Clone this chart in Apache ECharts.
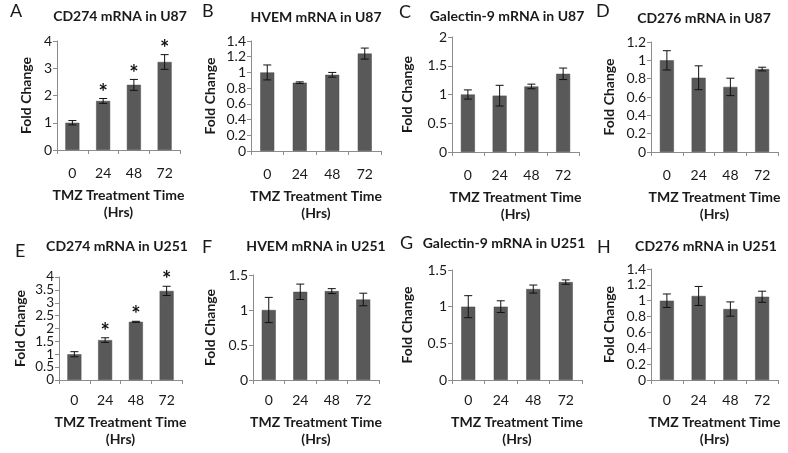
<!DOCTYPE html>
<html>
<head>
<meta charset="utf-8">
<script src="https://cdn.jsdelivr.net/npm/echarts@6/dist/echarts.min.js"></script>
<style>html,body{margin:0;padding:0;background:#fff}#c{width:788px;height:453px}</style>
</head>
<body>
<div id="c"></div>
<script>
// ---- data ----
const categories = ['0', '24', '48', '72'];
const panelLetters = ['A', 'B', 'C', 'D', 'E', 'F', 'G', 'H'];
const panelTitles = ['CD274 mRNA in U87', 'HVEM mRNA in U87', 'Galectin-9 mRNA in U87', 'CD276 mRNA in U87',
                     'CD274 mRNA in U251', 'HVEM mRNA in U251', 'Galectin-9 mRNA in U251', 'CD276 mRNA in U251'];
const cd274U87 = [1.0, 1.8, 2.39, 3.23];
const cd274U87Err = [0.08, 0.09, 0.2, 0.27];
const hvemU87 = [1.0, 0.87, 0.97, 1.24];
const hvemU87Err = [0.095, 0.01, 0.03, 0.07];
const gal9U87 = [1.0, 0.98, 1.14, 1.36];
const gal9U87Err = [0.08, 0.18, 0.04, 0.1];
const cd276U87 = [1.0, 0.81, 0.71, 0.905];
const cd276U87Err = [0.105, 0.13, 0.095, 0.02];
const cd274U251 = [1.0, 1.55, 2.26, 3.46];
const cd274U251Err = [0.1, 0.09, 0.02, 0.18];
const hvemU251 = [1.0, 1.26, 1.27, 1.15];
const hvemU251Err = [0.18, 0.11, 0.035, 0.09];
const gal9U251 = [1.0, 1.0, 1.24, 1.335];
const gal9U251Err = [0.15, 0.08, 0.055, 0.03];
const cd276U251 = [1.0, 1.06, 0.895, 1.05];
const cd276U251Err = [0.085, 0.12, 0.09, 0.07];
const sigCD274 = [0, 1, 1, 1];
const sigNone = [0, 0, 0, 0];
const yMax = [4, 1.4, 2, 1.2, 4, 1.5, 1.5, 1.4];
const yStep = [1, 0.2, 0.5, 0.2, 0.5, 0.5, 0.5, 0.2];
const xTitle = 'TMZ Treatment Time\n(Hrs)';
const yTitle = 'Fold Change';

const values = [cd274U87, hvemU87, gal9U87, cd276U87, cd274U251, hvemU251, gal9U251, cd276U251];
const errors = [cd274U87Err, hvemU87Err, gal9U87Err, cd276U87Err, cd274U251Err, hvemU251Err, gal9U251Err, cd276U251Err];
const sigs = [sigCD274, sigNone, sigNone, sigNone, sigCD274, sigNone, sigNone, sigNone];

// ---- layout ----
const FONT = 'Lato';
const grids = [
  {left: 57, top: 41, width: 123, height: 109},
  {left: 251, top: 41, width: 130, height: 110},
  {left: 452, top: 37, width: 127, height: 115},
  {left: 651, top: 42, width: 127, height: 110},
  {left: 59, top: 277, width: 123, height: 103},
  {left: 253, top: 275, width: 126, height: 105},
  {left: 452, top: 270, width: 130, height: 110},
  {left: 651, top: 269, width: 127, height: 111}
];
const yNameGap = [24, 34, 38, 35, 32, 36, 38, 35];
const titlePos = [[120, 16], [316, 17], [507, 16], [704, 18], [117, 246], [316, 246], [504, 243], [706, 246]];
const letterPos = [[10, 11], [202, 11], [399, 12], [596, 11], [15, 251], [202, 247], [400, 243], [597, 247]];
// panel whose labels are too dense for one axis: split integer / half-step labels over two stacked axes
const DENSE = 4;

const axisColor = '#8c8c8c';
const textColor = '#1a1a1a';
const labelBase = {margin: 5, fontSize: 14, color: textColor, fontFamily: FONT, hideOverlap: false};

const yAxes = grids.map((g, i) => {
  const dense = i === DENSE;
  return {
    type: 'value', gridIndex: i, position: 'left', min: 0, max: yMax[i],
    interval: dense ? yStep[i] * 2 : yStep[i],
    axisLine: {show: true, lineStyle: {color: axisColor, width: 1}},
    axisTick: {show: true, length: 4, lineStyle: {color: axisColor}},
    splitLine: {show: false},
    axisLabel: Object.assign({}, labelBase, {showMinLabel: true, showMaxLabel: true, fontSize: dense ? 13.5 : 14}),
    name: yTitle, nameLocation: 'middle', nameGap: yNameGap[i], nameRotate: 90,
    nameTextStyle: {fontFamily: FONT, fontWeight: 'bold', fontSize: 14, color: textColor}
  };
});
yAxes.push({
  type: 'value', gridIndex: DENSE, position: 'left', offset: 0, min: 0, max: yMax[DENSE], interval: yStep[DENSE],
  axisLine: {show: false},
  axisTick: {show: true, length: 4, lineStyle: {color: axisColor}},
  splitLine: {show: false},
  axisLabel: Object.assign({}, labelBase, {fontSize: 13.5, showMinLabel: false, showMaxLabel: false,
    formatter: v => (Math.abs(v % 1) > 1e-9 ? String(v) : '')})
});

const option = {
  backgroundColor: '#ffffff',
  animation: false,
  grid: grids.map(g => Object.assign({containLabel: false}, g)),
  xAxis: grids.map((g, i) => ({
    type: 'category', gridIndex: i, data: categories,
    axisLine: {lineStyle: {color: axisColor, width: 1}},
    axisTick: {show: true, length: 4, lineStyle: {color: axisColor}},
    axisLabel: {margin: i < 4 ? 16 : 13, fontSize: 14, color: textColor, fontFamily: FONT, interval: 0},
    name: xTitle, nameLocation: 'middle', nameGap: i < 4 ? 37 : 34,
    nameTextStyle: {fontFamily: FONT, fontWeight: 'bold', fontSize: 14, color: textColor, lineHeight: 17}
  })),
  yAxis: yAxes,
  series: [],
  graphic: []
};

values.forEach((vals, i) => {
  option.series.push({
    type: 'bar', xAxisIndex: i, yAxisIndex: i, data: vals, barWidth: 14,
    itemStyle: {color: '#595959', borderColor: '#4a4a4a', borderWidth: 0.5}
  });
  option.series.push({
    type: 'custom', xAxisIndex: i, yAxisIndex: i,
    data: vals.map((v, k) => [k, v, errors[i][k], sigs[i][k]]),
    z: 10,
    renderItem: function (params, api) {
      const k = api.value(0), v = api.value(1), e = api.value(2), s = api.value(3);
      const top = api.coord([k, v + e]);
      const bot = api.coord([k, v - e]);
      const cap = 4;
      const ls = {stroke: '#111', lineWidth: 1};
      const children = [
        {type: 'line', shape: {x1: top[0], y1: top[1], x2: bot[0], y2: bot[1]}, style: ls},
        {type: 'line', shape: {x1: top[0] - cap, y1: top[1], x2: top[0] + cap, y2: top[1]}, style: ls},
        {type: 'line', shape: {x1: bot[0] - cap, y1: bot[1], x2: bot[0] + cap, y2: bot[1]}, style: ls}
      ];
      if (s) {
        children.push({type: 'text', style: {text: '*', x: top[0], y: top[1] + 5, align: 'center', verticalAlign: 'bottom',
          font: 'bold 22px ' + FONT, fill: '#111'}});
      }
      return {type: 'group', children: children};
    }
  });
});

panelTitles.forEach((t, i) => {
  option.graphic.push({type: 'text', x: titlePos[i][0], y: titlePos[i][1],
    style: {text: t, align: 'center', verticalAlign: 'middle', font: 'bold 14px ' + FONT, fill: textColor}});
  option.graphic.push({type: 'text', x: letterPos[i][0], y: letterPos[i][1],
    style: {text: panelLetters[i], align: 'left', verticalAlign: 'middle', font: '18px ' + FONT, fill: textColor}});
});

const chart = echarts.init(document.getElementById('c'), null, {renderer: 'canvas'});
chart.setOption(option);
</script>
</body>
</html>
